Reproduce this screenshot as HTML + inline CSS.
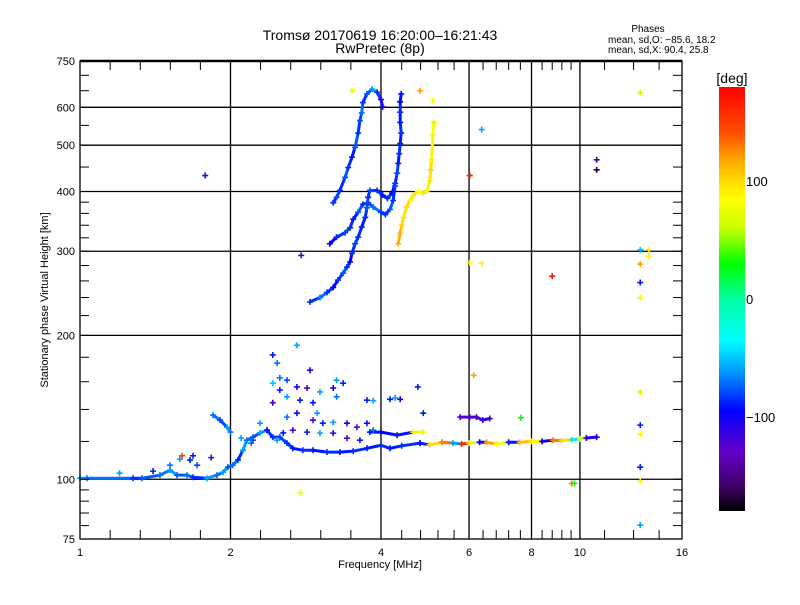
<!DOCTYPE html>
<html><head><meta charset="utf-8"><style>
body{margin:0;background:#fff;}
svg text{font-family:"Liberation Sans",sans-serif;fill:#000;}
</style></head><body>
<svg id="c" width="800" height="600" xmlns="http://www.w3.org/2000/svg">
<defs><linearGradient id="cbg" x1="0" y1="1" x2="0" y2="0" gradientUnits="objectBoundingBox"></linearGradient></defs>
<rect width="800" height="600" fill="#fff"/>
<g id="grid"></g>
<g id="marks"></g>
<g id="axes"></g>
<text x="380" y="40" font-size="14" text-anchor="middle">Tromsø 20170619 16:20:00–16:21:43</text>
<text x="380" y="53" font-size="14" text-anchor="middle">RwPretec (8p)</text>
<text x="648" y="32" font-size="10" text-anchor="middle">Phases</text>
<text x="608" y="43" font-size="10">mean, sd,O: −85.6, 18.2</text>
<text x="608" y="53" font-size="10">mean, sd,X:  90.4, 25.8</text>
<text x="380" y="568" font-size="11" text-anchor="middle">Frequency [MHz]</text>
<text transform="translate(48,300) rotate(-90)" font-size="11" text-anchor="middle">Stationary phase Virtual Height [km]</text>
<g id="cb"></g>
</svg>
<script>
const NS="http://www.w3.org/2000/svg";
const L=80,R=682,T=61,B=539;
const fMin=1,fMax=16,hMin=75,hMax=750;
function xs(f){return L+(R-L)*Math.log(f/fMin)/Math.log(fMax/fMin);}
function ys(h){return B-(B-T)*Math.log(h/hMin)/Math.log(hMax/hMin);}
const cmPhase=[-180,-160,-130,-95,-60,-35,0,30,60,85,100,120,140,180];
const cmColor=["#000000","#3c0064","#6400c8","#0000ff","#00a0ff","#00ffff","#00ffa0","#00ff00","#c8ff00","#ffff00","#ffdc00","#ffa000","#ff5000","#ff0000"];
function hex(c){return [1,3,5].map(i=>parseInt(c.substr(i,2),16));}
function col(p){
  for(let i=0;i<cmPhase.length-1;i++){
    if(p<=cmPhase[i+1]){const t=(p-cmPhase[i])/(cmPhase[i+1]-cmPhase[i]);const a=hex(cmColor[i]),b=hex(cmColor[i+1]);
      return "rgb("+a.map((v,k)=>Math.round(v+(b[k]-v)*t)).join(",")+")";}
  }return cmColor[cmColor.length-1];
}
// ---- data ----
const xTicks=[1,2,4,6,8,10,16];
const yTicks=[75,100,200,300,400,500,600,750];
const xGrid=[2,4,6,8,10];
const yGrid=[100,200,300,400,500,600];
const yMinor=[80,85,90,95,120,140,160,180,220,240,260,280,320,340,360,380,450,550,650,700];
const xMinor=[1.149,1.32,1.516,1.741,2.297,2.639,3.031,3.482,4.4,4.8,5.2,5.6,6.4,6.8,7.2,7.6,8.4,8.8,9.2,9.6,11.2,12.8,14.4];
const cbTicks=[100,0,-100];

const trace1Freq=[2.885,3.02,3.12,3.21,3.28,3.36,3.42,3.47,3.50,3.55,3.60,3.66,3.72,3.75,3.77,3.80,3.93,4.03,4.12,4.21,4.27,4.31,4.33,4.35,4.37,4.39,4.37,4.37,4.37,4.39];
const trace1Height=[235,240,246,252,261,270,278,285,297,311,321,337,353,370,389,402,402,393,387,397,416,437,458,480,504,530,558,586,616,640];
const trace1Phase=[-85,-70,-85,-95,-85,-75,-85,-95,-85,-80,-85,-90,-85,-75,-85,-80,-85,-90,-85,-95,-85,-80,-90,-85,-90,-85,-90,-85,-95,-90];
const trace2Freq=[3.16,3.26,3.39,3.47,3.52,3.60,3.68,3.77,3.86,4.0,4.08,4.17,4.23,4.27];
const trace2Height=[311,321,328,336,350,362,376,379,371,362,358,367,383,411];
const trace2Phase=[-95,-85,-80,-85,-90,-75,-85,-80,-70,-85,-85,-75,-85,-80];
const trace3Freq=[3.21,3.26,3.31,3.39,3.44,3.50,3.55,3.60,3.63,3.66,3.68,3.75,3.84,3.93,4.0,4.03];
const trace3Height=[379,389,402,428,449,472,495,530,563,584,614,640,655,645,623,601];
const trace3Phase=[-85,-80,-85,-75,-85,-90,-75,-85,-80,-70,-85,-75,-60,-85,-110,-100];
const trace4Freq=[4.33,4.37,4.40,4.44,4.50,4.57,4.64,4.74,4.86,4.94,5.01,5.03,5.05,5.08,5.10];
const trace4Height=[311,327,340,353,371,383,392,400,397,401,421,444,466,526,558];
const trace4Phase=[115,110,100,95,100,90,95,85,95,90,95,100,90,80,70];
const trace5Freq=[1,1.033,1.277,1.33,1.445,1.514,1.563,1.637,1.683,1.794,1.879,1.933,1.976,2.02,2.07,2.118,2.156,2.218,2.291,2.366,2.43,2.51,2.595,2.665,2.79,2.925,3.12,3.31,3.52,3.75,4.0,4.17,4.4,4.79];
const trace5Height=[100.5,100.5,100.5,100.5,102,104.5,102,102,101,100.5,102,103.5,106,107,109.7,115,120.7,122.5,125,126.7,122.5,122.5,119,116.1,115,115,114,114,114.5,116.1,117.8,116.1,117.5,119];
const trace5Phase=[-60,-70,-85,-75,-70,-60,-75,-70,-85,-60,-70,-60,-75,-70,-85,-60,-70,-75,-60,-85,-85,-80,-85,-90,-85,-90,-85,-90,-85,-90,-85,-90,-85,-85];
const trace6Freq=[1.846,1.906,1.968,2.0];
const trace6Height=[136.2,133,128.5,125.5];
const trace6Phase=[-70,-80,-60,-70];
const trace7Freq=[3.80,4.0,4.31,4.64,4.86];
const trace7Height=[125.5,125.5,123.7,125.5,125.5];
const trace7Phase=[-90,-95,-90,90,80];
const trace8Freq=[5.76,6.02,6.21,6.39,6.6];
const trace8Height=[134.9,134.9,134.9,133,134];
const trace8Phase=[-125,-120,-125,-110,-120];
const trace9Freq=[4.79,5.0,5.3,5.57,5.8,6.0,6.3,6.51,6.8,7.2,7.58,8.0,8.4,8.83,9.2,9.63,10.0,10.3,10.8];
const trace9Height=[119,118,119.5,119,118.5,119,119.5,119.5,118.5,119.5,119.5,120,120,120.7,120.5,121,121.5,122,122.5];
const trace9Phase=[-90,100,130,-60,160,90,-100,120,80,-90,110,90,-100,130,100,-40,60,-110,-100];
const scatterFreq=[2.43,2.51,2.595,2.716,2.846,2.925,3.02,3.21,3.36,3.26,2.716,2.925,3.06,3.21,3.42,3.58,3.75,3.86,2.291,2.366,2.218,2.48,2.55,2.665,2.846,3.02,3.21,3.42,3.63,2.51,2.595,2.885,2.98,2.755,2.43,2.595,3.75,3.26,2.43,2.48,2.716,1.514,1.584,1.66,1.715,1.6,1.83,1.683,4.17,4.27,4.37,4.74,4.86,3.86,13.2,13.2,13.2,13.2,13.2,13.74,13.74,13.2,13.2,13.2,13.2,13.2,13.2,6.02,6.02,6.36,6.36,8.8,10.8,10.8,4.79,5.08,2.755,9.63,9.75,1.78,2.77,3.5,6.13,7.62,1.4,1.2,2.1,2.2];
const scatterHeight=[158.9,153.7,148.8,156,155.2,144.6,152.3,155.2,158.9,148.8,137.5,132.9,131,131.6,131,128.5,131,126.7,131,126.7,120.7,120.7,125,126.7,125.5,124.9,124.9,121.9,120.7,163,161.2,169.1,137.5,146.4,144.6,134.9,146.4,161.2,182,175,190.7,107,110.2,109.7,107,112,111,112,147,148,147,156,137.5,146,644,302,282,258,240,302,293,152.3,129.8,124.3,106,99,80.2,432,284,283,539,266,466,444,650,620,93.6,98,98,432,294,650,165,134.5,104,103,122,119];
const scatterPhase=[-50,-90,-60,-100,-120,-90,-60,-110,-90,-70,-100,-120,-90,-60,-110,-125,-90,-70,-60,-90,-80,-60,-90,-120,-90,-60,-110,-125,-90,-70,-80,-100,-60,-90,-120,-70,-90,-60,-90,-70,-60,-70,-60,-90,-80,150,-120,-90,-90,-60,-100,-90,-90,-60,60,-50,120,-90,90,90,90,60,-90,90,-90,90,-60,170,90,90,-60,170,-150,-170,120,80,80,130,30,-90,-125,80,120,30,-90,-60,-60,-70];
// ---- drawing ----
function el(tag,attrs,parent){const e=document.createElementNS(NS,tag);for(const k in attrs)e.setAttribute(k,attrs[k]);parent.appendChild(e);return e;}
const grid=document.getElementById('grid'),axes=document.getElementById('axes'),marks=document.getElementById('marks'),cb=document.getElementById('cb');
xGrid.forEach(f=>{const l=el('line',{x1:xs(f),x2:xs(f),y1:T,y2:B,stroke:'#000','stroke-width':1.3},grid);

});
yGrid.forEach(h=>{const l=el('line',{x1:L,x2:R,y1:ys(h),y2:ys(h),stroke:'#000','stroke-width':1.3},grid);

});
function drawTrace(fr,hs,ph,name){
  const g=el('g',{},marks);
  
  
  for(let i=0;i<fr.length-1;i++){
    const s=el('line',{x1:xs(fr[i]),y1:ys(hs[i]),x2:xs(fr[i+1]),y2:ys(hs[i+1]),stroke:col(ph[i]),'stroke-width':3,'stroke-linecap':'round'},g);
    
    
  }
  for(let i=0;i<fr.length;i++)drawPt(fr[i],hs[i],ph[i],g);
}
function drawPt(f,h,p,g){
  const x=xs(f),y=ys(h),c=col(p);
  const pt=el('path',{d:`M${x-3},${y}H${x+3}M${x},${y-3}V${y+3}`,stroke:c,'stroke-width':1.6},g);
  
  
}
drawTrace(trace5Freq,trace5Height,trace5Phase,'e-layer-trace');
drawTrace(trace9Freq,trace9Height,trace9Phase,'e-layer-x-trace');
drawTrace(trace6Freq,trace6Height,trace6Phase,'hook-trace');
drawTrace(trace7Freq,trace7Height,trace7Phase,'es-trace');
drawTrace(trace8Freq,trace8Height,trace8Phase,'purple-trace');
drawTrace(trace1Freq,trace1Height,trace1Phase,'f-o-trace');
drawTrace(trace2Freq,trace2Height,trace2Phase,'f-o-trace-2');
drawTrace(trace3Freq,trace3Height,trace3Phase,'f-arch-trace');
drawTrace(trace4Freq,trace4Height,trace4Phase,'f-x-trace');
const sg=el('g',{},marks);


for(let i=0;i<scatterFreq.length;i++)drawPt(scatterFreq[i],scatterHeight[i],scatterPhase[i],sg);
// axes frame
const fr=el('rect',{x:L,y:T,width:R-L,height:B-T,fill:'none',stroke:'#000','stroke-width':1.3},axes);


el('line',{x1:L,x2:R,y1:T,y2:T,stroke:'#000','stroke-width':2.5},axes);
xMinor.concat(xTicks).forEach(f=>{const x=xs(f);
  el('line',{x1:x,x2:x,y1:B,y2:B-9,stroke:'#000'},axes);
  el('line',{x1:x,x2:x,y1:T,y2:T+9,stroke:'#000'},axes);});
yMinor.concat(yTicks).forEach(h=>{const y=ys(h);
  el('line',{x1:L,x2:L+9,y1:y,y2:y,stroke:'#000'},axes);
  el('line',{x1:R,x2:R-9,y1:y,y2:y,stroke:'#000'},axes);});
xTicks.forEach(f=>{const t=el('text',{x:xs(f),y:B+17,'font-size':11,'text-anchor':'middle'},axes);t.textContent=f;

});
yTicks.forEach(h=>{const t=el('text',{x:L-5,y:ys(h)+4,'font-size':11,'text-anchor':'end'},axes);t.textContent=h;

});
// colorbar
const cbTop=87,cbBot=511,cbX=719,cbW=26;
function cy(p){return cbBot-(cbBot-cbTop)*(p+180)/360;}
const grad=document.getElementById('cbg');
cmPhase.forEach((p,i)=>{el('stop',{offset:((p+180)/360),'stop-color':cmColor[i]},grad);});
const cr=el('rect',{x:cbX,y:cbTop,width:cbW,height:cbBot-cbTop,fill:'url(#cbg)'},cb);


cbTicks.forEach(p=>{const t=el('text',{x:cbX+cbW+1,y:cy(p)+5,'font-size':13},cb);t.textContent=p===-100?'−100':p;

});
const dl=el('text',{x:cbX+cbW/2,y:83,'font-size':14,'text-anchor':'middle'},cb);dl.textContent='[deg]';


</script>
</body></html>
